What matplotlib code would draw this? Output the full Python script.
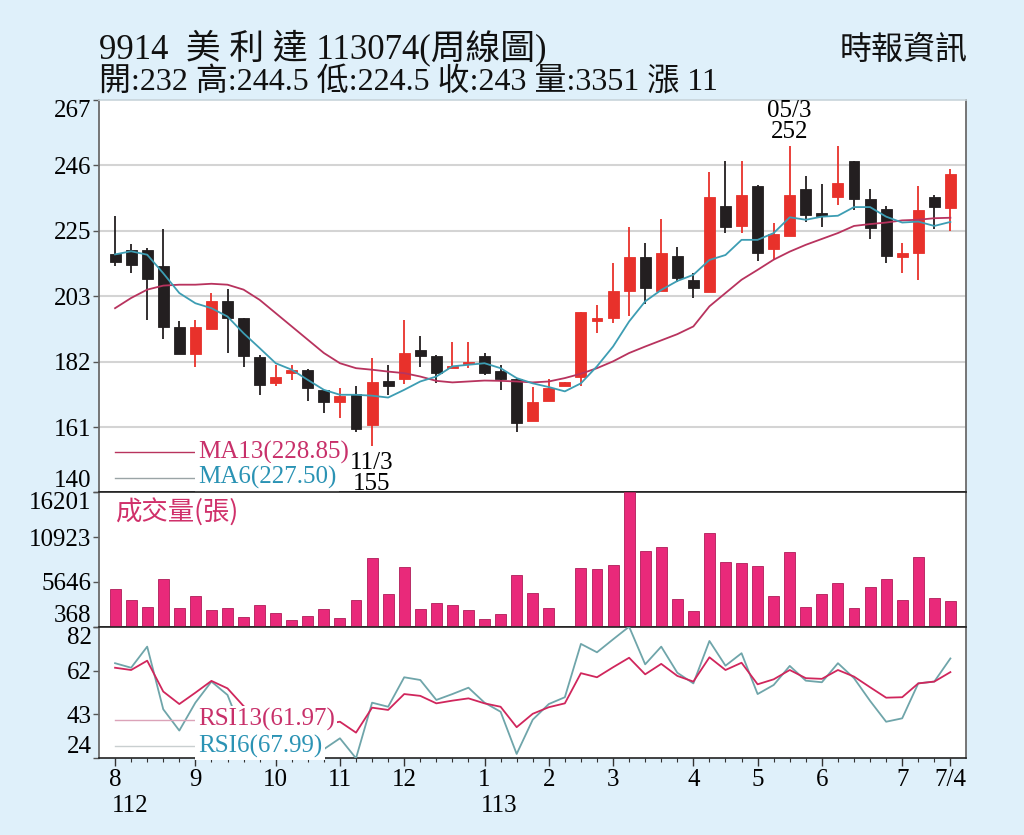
import matplotlib
matplotlib.use('Agg')
import matplotlib.pyplot as plt
import numpy as np

plt.rcParams['font.family'] = ['Liberation Serif', 'Noto Sans CJK TC']

# ---------------- data ----------------
opens = [217.1, 218.5, 218.5, 213.1, 193.4, 184.7, 193.0, 202.0, 196.4, 183.7,
         175.4, 178.8, 179.7, 173.0, 169.2, 171.8, 161.9, 176.1, 176.8, 186.0,
         184.0, 180.3, 181.6, 184.0, 179.4, 176.7, 163.2, 169.6, 174.3, 177.3,
         195.5, 196.4, 205.0, 216.0, 205.0, 216.6, 208.8, 204.7, 232.5, 226.2,
         239.1, 218.7, 222.8, 238.1, 230.5, 235.4, 247.2, 234.8, 231.6, 216.1,
         217.6, 235.5, 232.0]
highs = [229.3, 220.4, 219.0, 225.2, 195.3, 195.8, 204.5, 205.9, 196.4, 184.5,
         181.3, 181.3, 179.9, 173.2, 173.7, 174.3, 183.4, 181.3, 195.8, 190.6,
         184.5, 188.8, 188.8, 185.1, 181.3, 177.0, 174.1, 176.7, 175.6, 198.3,
         200.7, 214.1, 226.0, 220.6, 228.4, 219.5, 211.0, 243.5, 247.3, 247.3,
         239.5, 227.1, 252.0, 242.4, 239.7, 251.9, 247.2, 238.1, 232.5, 220.6,
         239.2, 236.2, 244.5]
lows = [213.4, 210.9, 195.8, 189.7, 184.7, 180.7, 193.0, 185.1, 180.7, 171.6,
        174.5, 176.4, 169.6, 165.7, 164.1, 159.7, 155.0, 171.6, 175.2, 180.7,
        175.4, 180.2, 180.2, 178.0, 173.2, 159.7, 163.2, 169.6, 174.3, 174.3,
        191.7, 194.8, 197.1, 201.0, 205.0, 208.2, 202.8, 204.7, 224.0, 224.0,
        214.9, 215.5, 222.8, 227.6, 225.7, 233.0, 231.4, 221.9, 214.3, 211.0,
        208.8, 225.1, 224.5]
closes = [214.5, 213.7, 209.1, 193.4, 184.7, 193.4, 201.8, 196.4, 184.0, 174.8,
          177.3, 179.7, 173.7, 169.2, 171.3, 160.6, 175.6, 174.5, 185.1, 184.2,
          178.6, 181.0, 182.3, 178.6, 176.7, 162.4, 169.4, 173.7, 175.6, 198.3,
          196.4, 205.3, 216.0, 206.1, 217.6, 209.5, 206.1, 235.7, 225.7, 236.2,
          217.6, 223.7, 236.2, 229.8, 229.4, 240.0, 234.8, 225.5, 216.6, 217.6,
          231.2, 232.3, 243.0]
ma13 = [199.6, 202.9, 205.6, 206.9, 207.2, 207.2, 207.5, 207.2, 205.6, 202.3,
        198.0, 193.7, 189.4, 185.1, 181.8, 180.2, 179.7, 179.1, 178.6, 177.5,
        176.1, 175.6, 175.9, 176.2, 176.1, 175.9, 175.6, 175.9, 177.0, 178.4,
        180.2, 182.4, 185.1, 187.2, 189.2, 191.2, 193.7, 200.2, 204.5, 208.8,
        212.0, 215.3, 217.9, 220.1, 222.0, 223.9, 226.2, 226.8, 227.3, 228.0,
        228.2, 228.7, 228.85]
ma6 = [217.0, 218.0, 216.9, 210.9, 204.5, 201.2, 199.6, 196.9, 191.5, 186.7,
       181.8, 179.7, 176.4, 173.2, 171.6, 171.6, 171.3, 170.7, 173.2, 175.9,
       177.5, 180.8, 181.3, 181.8, 180.2, 177.0, 175.3, 174.1, 172.7, 175.3,
       180.8, 187.2, 195.3, 201.8, 205.5, 208.4, 210.4, 215.2, 216.8, 221.7,
       221.7, 223.9, 229.0, 228.2, 229.2, 229.5, 232.3, 232.3, 229.2, 227.3,
       227.6, 226.2, 227.50]
volume = [4845, 3513, 2653, 5987, 2571, 4020, 2335, 2606, 1546, 2924,
          2017, 1193, 1664, 2418, 1428, 3513, 8425, 4220, 7436, 2418,
          3195, 2924, 2335, 1240, 1829, 6458, 4373, 2535, 368, 7248,
          7165, 7636, 16201, 9250, 9792, 3596, 2253, 11370, 8025, 7837,
          7554, 4020, 9203, 2653, 4220, 5481, 2535, 5045, 5987, 3513,
          8614, 3713, 3351]
rsi13 = [63.9, 62.9, 67.0, 53.4, 47.9, 52.9, 58.1, 54.8, 47.0, 42.0,
         44.0, 45.0, 41.0, 39.0, 40.1, 35.3, 46.3, 45.3, 52.3, 51.5,
         48.2, 49.4, 50.4, 48.2, 46.7, 37.7, 43.6, 46.5, 48.2, 61.5,
         59.7, 64.1, 68.3, 61.0, 65.6, 60.3, 57.8, 68.5, 62.9, 66.1,
         56.6, 58.8, 62.9, 59.3, 59.0, 62.9, 60.0, 55.3, 50.7, 50.9,
         57.0, 57.8, 61.97]
rsi6 = [65.9, 63.9, 73.2, 45.6, 36.2, 48.5, 57.8, 51.9, 34.0, 28.0,
        33.0, 36.0, 30.0, 28.0, 32.8, 24.0, 48.5, 46.7, 59.7, 58.5,
        49.7, 52.3, 55.1, 48.5, 44.5, 25.9, 41.0, 47.9, 50.9, 74.4,
        70.7, 76.4, 82.0, 65.4, 73.2, 61.7, 57.0, 75.7, 64.8, 70.3,
        52.3, 56.3, 64.7, 58.2, 57.5, 65.9, 59.3, 49.3, 40.1, 41.6,
        57.0, 57.8, 67.99]

price_tick_labels = ['140', '161', '182', '203', '225', '246', '267']
vol_tick_labels = ['368', '5646', '10923', '16201']
rsi_tick_labels = ['24', '43', '62', '82']
month_pos = [0, 5, 10, 14, 18, 23, 27, 31, 36, 40, 44, 49, 52]
month_labels = ['8', '9', '10', '11', '12', '1', '2', '3', '4', '5', '6', '7', '7/4']
year_labels = [(0, '112'), (23, '113')]

title1 = '9914  美 利 達 113074(周線圖)'
title2 = '開:232 高:244.5 低:224.5 收:243 量:3351 漲 11'
source = '時報資訊'

# ---------------- styling ----------------
BG = '#dff0fa'
RED = '#e8312b'
BLK = '#231f20'
PINK = '#e9297a'
MA13_C = '#b8335e'
MA6_C = '#3d9db3'
RSI13_C = '#d0265c'
RSI6_C = '#6fa5aa'
TXT13 = '#c8306a'
TXT6 = '#2b93b4'
FS = 18

fig = plt.figure(figsize=(10.24, 8.35), dpi=100)
fig.patch.set_facecolor(BG)
L, R = 0.0962, 0.9438
ax1 = fig.add_axes([L, 0.4102, R - L, 0.8805 - 0.4102])
ax2 = fig.add_axes([L, 0.2495, R - L, 0.4102 - 0.2495], sharex=ax1)
ax3 = fig.add_axes([L, 0.0919, R - L, 0.2495 - 0.0919], sharex=ax1)

n = len(closes)
x = np.arange(n)
W = 0.68

# ---- price panel ----
o = np.array(opens); c = np.array(closes); h = np.array(highs); lo = np.array(lows)
up = c >= o
cols = np.where(up, RED, BLK)
ax1.vlines(x, lo, h, colors=cols, lw=1.3, zorder=3)
body_bot = np.minimum(o, c)
body_h = np.maximum(np.abs(c - o), 0.7)
ax1.bar(x, body_h, bottom=body_bot, width=W, color=cols, edgecolor=cols,
        linewidth=0.6, zorder=4)
ax1.plot(x, ma13, color=MA13_C, lw=1.3, zorder=5)
ax1.plot(x, ma6, color=MA6_C, lw=1.3, zorder=5)

ax1.set_ylim(140, 267)
pt = np.linspace(140, 267, 7)
ax1.set_yticks(pt)
ax1.set_yticklabels(price_tick_labels)
for yv in pt[1:-1]:
    ax1.axhline(yv, color='#d4d4d4', lw=1.5, zorder=1)

# legend of MA lines
box = dict(facecolor='white', edgecolor='none', pad=2.0)
ax1.plot([0, 5.1], [153.0, 153.0], color=MA13_C, lw=1.0, zorder=6, clip_on=False)
ax1.plot([0, 5.1], [144.8, 144.8], color='#9aa4a6', lw=1.0, zorder=6, clip_on=False)
ax1.text(5.15, 153.0, 'MA13(228.85)', color=TXT13, fontsize=FS, va='center',
         ha='left', zorder=7, bbox=box)
ax1.text(5.15, 144.8, 'MA6(227.50)', color=TXT6, fontsize=FS, va='center',
         ha='left', zorder=7, bbox=box)

# high / low annotations
ax1.text(42, 253.0, '05/3\n252', fontsize=FS, ha='center', va='bottom',
         linespacing=0.95, zorder=8, clip_on=False)
ax1.text(16, 153.0, '11/3\n155', fontsize=FS, ha='center', va='top',
         linespacing=0.95, zorder=8, clip_on=False)

# ---- volume panel ----
ax2.bar(x, volume, width=W, color=PINK, edgecolor='#b01c58', linewidth=0.6, zorder=3)
ax2.set_ylim(368, 16201)
ax2.set_yticks([368, 5646, 10923, 16201])
ax2.set_yticklabels(vol_tick_labels)
ax2.text(0.019, 0.85, '成交量(張)', transform=ax2.transAxes, color='#d0306a',
         fontsize=19, family=['Noto Sans CJK TC'], ha='left', va='center', zorder=6)

# ---- RSI panel ----
ax3.plot(x, rsi6, color=RSI6_C, lw=1.3, zorder=3)
ax3.plot(x, rsi13, color=RSI13_C, lw=1.3, zorder=4)
ax3.set_ylim(24, 82)
rt = np.linspace(24, 82, 4)
ax3.set_yticks(rt)
ax3.set_yticklabels(rsi_tick_labels)
ax3.plot([0, 5.1], [40.9, 40.9], color='#dba3b8', lw=1.0, zorder=6)
ax3.plot([0, 5.1], [29.4, 29.4], color='#c9cfd0', lw=1.0, zorder=6)
ax3.text(5.15, 40.9, 'RSI13(61.97)', color=TXT13, fontsize=FS, va='center',
         ha='left', zorder=7, bbox=box)
ax3.text(5.15, 29.4, 'RSI6(67.99)', color=TXT6, fontsize=FS, va='center',
         ha='left', zorder=7, bbox=box)

# ---- x axis ----
ax1.set_xlim(-1.03, 53.0)
ax3.set_xticks(month_pos)
ax3.set_xticklabels(month_labels)
ax3.set_xticks(x, minor=True)
for yr_i, yr in year_labels:
    ax3.text(yr_i - 0.2, -0.36, yr, transform=ax3.get_xaxis_transform(),
             fontsize=FS, ha='left', va='center')
for a in (ax1, ax2):
    a.tick_params(axis='x', which='both', bottom=False, labelbottom=False)
ax3.tick_params(axis='x', which='major', length=6, width=1, color='#333333',
                labelsize=FS, pad=2, direction='out')
ax3.tick_params(axis='x', which='minor', length=3, width=0.8, color='#333333',
                direction='out')

for a in (ax1, ax2, ax3):
    a.set_facecolor('white')
    a.tick_params(axis='y', which='both', length=4, width=1, color='#555555',
                  labelsize=FS, pad=1, direction='out')
    for s in ('left', 'right'):
        a.spines[s].set_color('#6b6b6b')
        a.spines[s].set_linewidth(1.3)
    a.spines['top'].set_color('#222222')
    a.spines['bottom'].set_color('#222222')
    a.spines['top'].set_linewidth(1.2)
    a.spines['bottom'].set_linewidth(1.2)
ax1.spines['top'].set_color('#c8d4da')

# align extreme y tick labels inside the panel height
for a in (ax1, ax2, ax3):
    ticks = a.yaxis.get_major_ticks()
    ticks[0].label1.set_verticalalignment('bottom')
    ticks[-1].label1.set_verticalalignment('top')

# ---- titles ----
fig.text(0.0965, 0.930, title1, fontsize=25, ha='left', va='baseline', color='#111111')
fig.text(0.0965, 0.891, title2, fontsize=23, ha='left', va='baseline', color='#111111')
fig.text(0.945, 0.930, source, fontsize=23, ha='right', va='baseline', color='#111111',
         family=['Noto Sans CJK TC'], fontweight='medium')

fig.savefig('out.png', dpi=100, facecolor=BG)
